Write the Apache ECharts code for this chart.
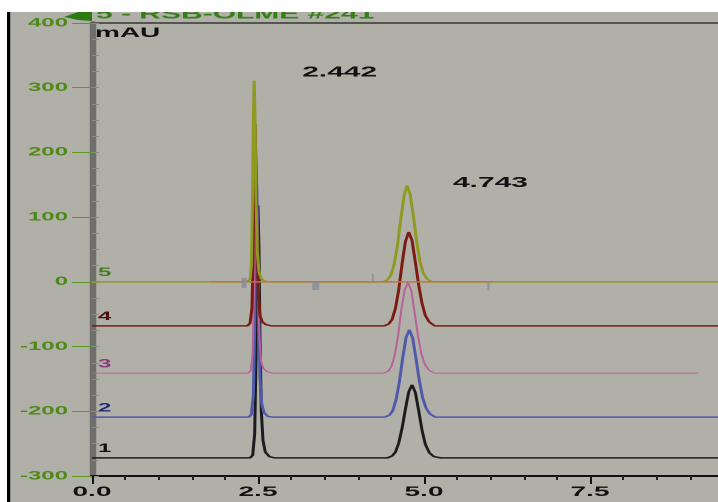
<!DOCTYPE html>
<html>
<head>
<meta charset="utf-8">
<script src="https://cdn.jsdelivr.net/npm/echarts@6/dist/echarts.min.js"></script>
<style>
  html, body { margin: 0; padding: 0; background: #ffffff; overflow: hidden; }
  #wrap { width: 718px; height: 502px; overflow: hidden; position: relative; }
  /* the chromatogram view is laid out at half width and stretched 2x horizontally */
  #chart { width: 359px; height: 502px; transform: scaleX(2); transform-origin: 0 0; }
</style>
</head>
<body>
<div id="wrap"><div id="chart"></div></div>
<script>
// ---- data: retention time (min) vs absorbance (mAU), five overlaid runs ----
const traceNames = ['1', '2', '3', '4', '5'];

const trace1 = [
  [0, -272], [2.38, -272], [2.42, -268], [2.45, -235], [2.47, -120], [2.485, 40], [2.50, 118],
  [2.515, 50], [2.53, -90], [2.55, -200], [2.575, -245], [2.61, -263], [2.67, -270], [2.75, -272],
  [4.45, -272], [4.52, -269], [4.57, -263], [4.62, -249], [4.67, -226], [4.72, -197], [4.77, -170],
  [4.82, -159], [4.87, -171], [4.92, -199], [4.97, -229], [5.02, -251], [5.08, -264], [5.15, -270],
  [5.25, -272], [9.43, -272]
];
const trace2 = [
  [0, -209], [2.36, -209], [2.40, -205], [2.43, -175], [2.45, -70], [2.465, 70], [2.48, 151],
  [2.495, 80], [2.51, -50], [2.53, -150], [2.555, -188], [2.59, -202], [2.65, -208], [2.73, -209],
  [4.41, -209], [4.48, -206], [4.53, -199], [4.58, -182], [4.63, -154], [4.68, -117], [4.73, -86],
  [4.78, -74], [4.83, -87], [4.88, -119], [4.93, -153], [4.98, -179], [5.03, -195], [5.09, -204],
  [5.17, -209], [9.43, -209]
];
const trace3 = [
  [0, -141], [2.35, -141], [2.39, -137], [2.42, -110], [2.44, -10], [2.455, 120], [2.47, 199],
  [2.485, 130], [2.50, 10], [2.52, -85], [2.545, -122], [2.58, -134], [2.64, -139], [2.72, -141],
  [4.39, -141], [4.46, -138], [4.51, -131], [4.56, -113], [4.61, -83], [4.66, -42], [4.71, -12],
  [4.76, -1], [4.81, -14], [4.86, -48], [4.91, -84], [4.96, -111], [5.01, -127], [5.07, -136],
  [5.15, -141], [9.13, -141]
];
const trace4 = [
  [0, -68], [2.34, -68], [2.38, -64], [2.41, -40], [2.425, 40], [2.44, 170], [2.455, 244],
  [2.47, 175], [2.485, 65], [2.505, -22], [2.53, -52], [2.565, -62], [2.62, -66], [2.70, -68],
  [4.40, -68], [4.47, -65], [4.52, -58], [4.57, -41], [4.62, -12], [4.67, 28], [4.72, 62],
  [4.77, 77], [4.82, 64], [4.87, 30], [4.92, -5], [4.97, -33], [5.02, -52], [5.08, -62],
  [5.16, -68], [9.43, -68]
];
const trace5 = [
  [0, 0], [2.33, 0], [2.38, 4], [2.40, 25], [2.415, 110], [2.43, 250], [2.442, 311],
  [2.455, 255], [2.47, 130], [2.49, 45], [2.515, 15], [2.55, 5], [2.60, 1], [2.68, 0],
  [4.38, 0], [4.45, 3], [4.50, 10], [4.55, 27], [4.60, 56], [4.65, 97], [4.70, 133],
  [4.743, 149], [4.79, 136], [4.84, 102], [4.89, 62], [4.94, 31], [4.99, 13], [5.05, 4],
  [5.13, 0], [9.43, 0]
];

// labelled retention times (on run 5)
const peakTimes = [2.442, 4.743];
// integration baseline and peak start/end markers on run 5
const integrationSpan = [[1.78, 0], [6.04, 0]];
const markerTimes = [2.29, 3.37, 4.23, 5.97];

// ---- styling ----
const FONT = '"Liberation Sans", Arial, sans-serif';
const traceColors = ['#1c1c1c', '#4f5aaa', '#b8609a', '#7a1c12', '#8f9a20'];
const traceLabelColors = ['#111111', '#232c78', '#8a3a7a', '#4a0c0c', '#3f7f1a'];
const traceWidths = [1.5, 1.5, 1, 1.5, 1.5];
const peakLabelOffsets = [[24, -8], [23, -2.5]];
const markerSizes = [[2.5, 10], [3.5, 8], [1, 7], [1, 9]];
const markerOffsets = [[0, 1], [0, 4], [0, -4.5], [0, 4]];

const traces = [trace1, trace2, trace3, trace4, trace5];

function traceSeries(i) {
  const data = traces[i];
  const mpData = [{
    coord: [0, data[0][1]],
    label: {
      formatter: traceNames[i], color: traceLabelColors[i],
      offset: [3, -9], fontSize: 12
    }
  }];
  if (i === 4) {
    peakTimes.forEach(function (t, k) {
      const apex = data.find(function (p) { return p[0] === t; });
      mpData.push({
        coord: [apex[0], apex[1]],
        value: apex[0],
        label: {
          formatter: apex[0].toFixed(3), color: '#111111',
          offset: peakLabelOffsets[k], fontSize: 15
        }
      });
    });
  }
  return {
    type: 'line',
    name: traceNames[i],
    data: data,
    showSymbol: false,
    symbol: 'none',
    silent: true,
    z: 2 + i,
    lineStyle: { color: traceColors[i], width: traceWidths[i] },
    markPoint: {
      symbol: 'circle',
      symbolSize: 0,
      silent: true,
      animation: false,
      label: {
        show: true, position: 'right', distance: 0,
        fontFamily: FONT, fontWeight: 'bold'
      },
      data: mpData
    }
  };
}

const series = [0, 1, 2, 3, 4].map(traceSeries);
series.push({
  type: 'line',
  data: integrationSpan,
  showSymbol: false,
  symbol: 'none',
  silent: true,
  z: 8,
  lineStyle: { color: '#b8783c', width: 1.5 }
});
series.push({
  type: 'scatter',
  silent: true,
  z: 9,
  itemStyle: { color: '#8b8b98' },
  data: markerTimes.map(function (t, k) {
    return { value: [t, 0], symbol: 'rect', symbolSize: markerSizes[k], symbolOffset: markerOffsets[k] };
  })
});

const chart = echarts.init(document.getElementById('chart'), null, { renderer: 'canvas', devicePixelRatio: 2 });

chart.setOption({
  animation: false,
  backgroundColor: '#b0b0a8',
  grid: { left: 46, right: -19, top: 23, bottom: 26, containLabel: false, outerBoundsMode: 'none' },
  xAxis: [{
    type: 'value', min: 0, max: 10, interval: 2.5,
    axisLine: { show: true, onZero: false, lineStyle: { color: '#111111', width: 2 } },
    axisTick: { show: true, length: 8, lineStyle: { color: '#111111', width: 1 } },
    minorTick: { show: true, splitNumber: 5, length: 4, lineStyle: { color: '#222222', width: 1 } },
    axisLabel: {
      color: '#111111', fontFamily: FONT, fontWeight: 'bold', fontSize: 14, margin: 9,
      formatter: function (v) {
        const k = v / 2.5;
        return (Math.abs(k - Math.round(k)) < 1e-9 && v < 9) ? v.toFixed(1) : '';
      }
    },
    splitLine: { show: false }
  }, {
    type: 'value', min: 0, max: 10, position: 'top',
    axisLine: { show: true, onZero: false, lineStyle: { color: '#55554f', width: 2 } },
    axisTick: { show: false }, axisLabel: { show: false }, splitLine: { show: false }
  }],
  yAxis: [{
    type: 'value', min: -300, max: 400, interval: 100,
    axisLine: { show: true, onZero: false, lineStyle: { color: '#6e6e6a', width: 3.25 } },
    axisTick: { show: true, length: 10, lineStyle: { color: '#5a9a22', width: 1 } },
    axisLabel: { color: '#4f8a18', fontFamily: FONT, fontWeight: 'bold', fontSize: 12, margin: 12 },
    splitLine: { show: false }
  }, {
    type: 'value', min: -300, max: 400, interval: 25, position: 'left', offset: 0,
    axisLine: { show: false, onZero: false },
    axisTick: { show: true, inside: true, length: 3.5, lineStyle: { color: '#8c8c86', width: 1 } },
    axisLabel: { show: false }, splitLine: { show: false }
  }],
  series: series,
  graphic: [
    {
      type: 'text', x: 48, y: 22, z: 40,
      style: { text: '5 - RSB-OLME #241', fill: '#357f18', font: 'bold 15px ' + FONT, verticalAlign: 'bottom' }
    },
    {
      type: 'polygon', z: 40,
      shape: { points: [[32, 17], [39, 12], [46, 12], [46, 21], [39, 20]] },
      style: { fill: '#2c7a12' }
    },
    {
      type: 'text', x: 47.5, y: 26, z: 40,
      style: { text: 'mAU', fill: '#111111', font: 'bold 14px ' + FONT, verticalAlign: 'top' }
    },
    { type: 'rect', z: 100, shape: { x: 0, y: 0, width: 359, height: 12 }, style: { fill: '#ffffff' } },
    { type: 'rect', z: 100, shape: { x: 0, y: 0, width: 3.5, height: 502 }, style: { fill: '#ffffff' } },
    { type: 'rect', z: 101, shape: { x: 3.5, y: 12, width: 1.6, height: 490 }, style: { fill: '#000000' } }
  ]
});
</script>
</body>
</html>
